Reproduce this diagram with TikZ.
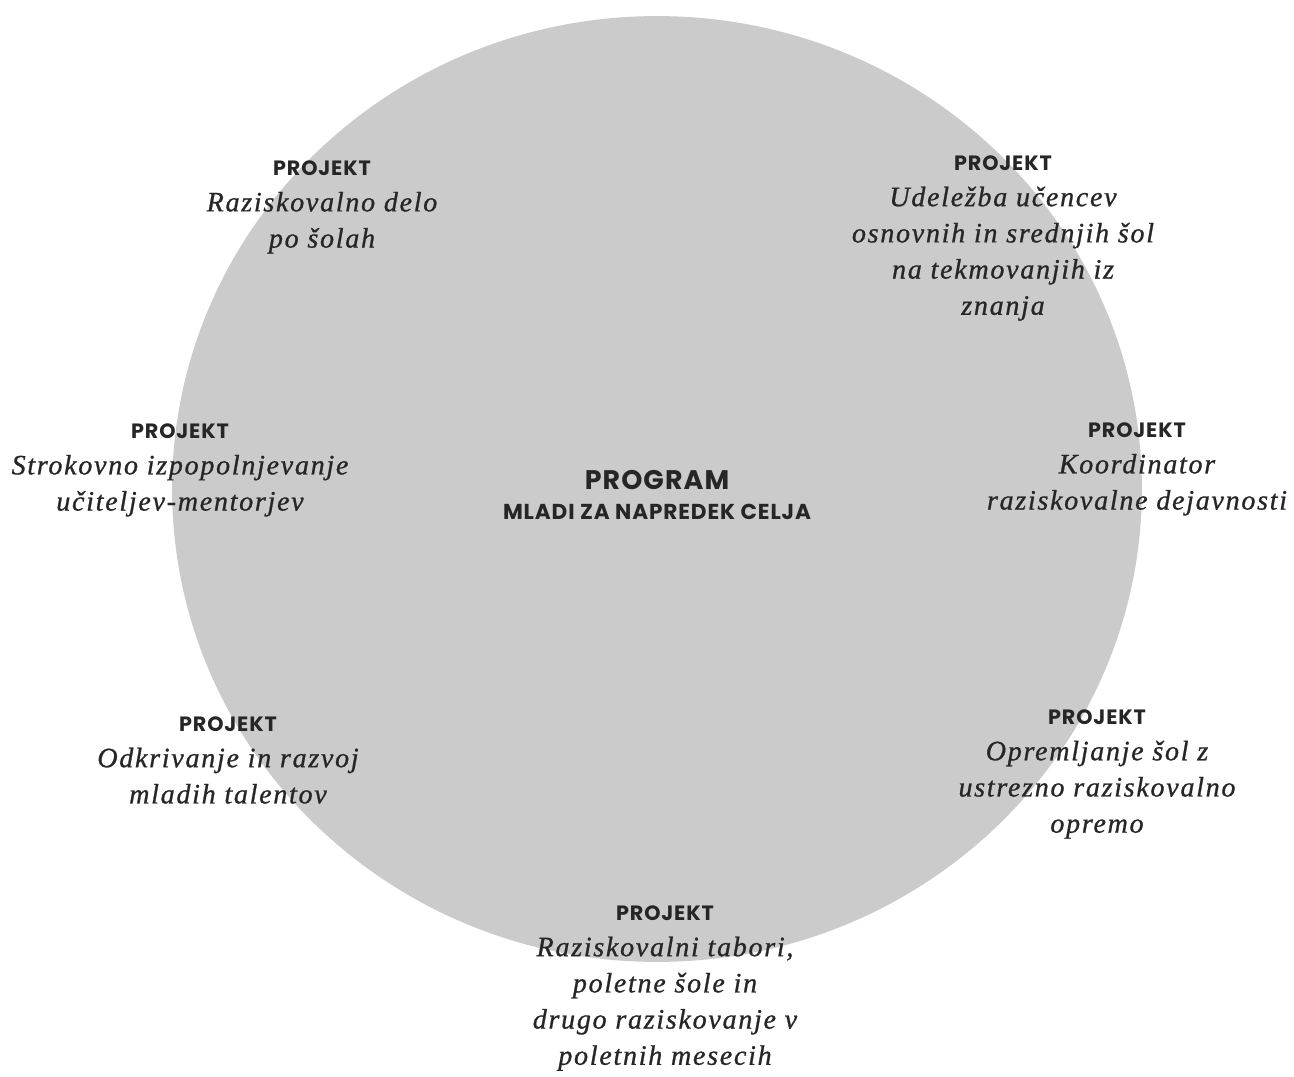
\documentclass[tikz,border=0pt]{standalone}
\usepackage{fontspec}
\setmainfont{Liberation Serif}[LetterSpace=6,ItalicFeatures={FakeBold=0.8}]
\newfontfamily\headfont{Poppins}[LetterSpace=4]
\definecolor{discgrey}{RGB}{203,203,203}
\newcommand\projekt{{\headfont\bfseries\upshape\fontsize{11.8}{20}\selectfont PROJEKT}}
\begin{document}
\begin{tikzpicture}
	[x=0.02cm,y=-0.02cm,%
	  every node/.style={align=center,inner sep=0pt,text=black!85,
	    font=\fontsize{16}{20.6}\selectfont\itshape}]
	\useasboundingbox (0,0) rectangle (1294,1077);
	\fill[discgrey] (657,489) ellipse [x radius=9.7cm,y radius=9.46cm];
	\node (program) at (657,495) [font=\fontsize{16}{17}\selectfont]
	  {{\headfont\bfseries\fontsize{15.3}{17}\selectfont PROGRAM}\\
	  {\headfont\bfseries\fontsize{12.3}{17}\selectfont MLADI ZA NAPREDEK CELJA}};
	\node (raziskovalno) at (322,207) {\projekt\\ Raziskovalno delo\\ po šolah};
	\node (udelezba) at (1003,238) {\projekt\\ Udeležba učencev\\ osnovnih in srednjih šol\\ na tekmovanjih iz\\ znanja};
	\node (strokovno) at (180,470) {\projekt\\ Strokovno izpopolnjevanje\\ učiteljev-mentorjev};
	\node (koordinator) at (1137,469) {\projekt\\ Koordinator\\ raziskovalne dejavnosti};
	\node (odkrivanje) at (228,760) {\projekt\\ Odkrivanje in razvoj\\ mladih talentov};
	\node (opremljanje) at (1097,774) {\projekt\\ Opremljanje šol z\\ ustrezno raziskovalno\\ opremo};
	\node (tabori) at (665,988) {\projekt\\ Raziskovalni tabori,\\ poletne šole in\\ drugo raziskovanje v\\ poletnih mesecih};
\end{tikzpicture}
\end{document}
